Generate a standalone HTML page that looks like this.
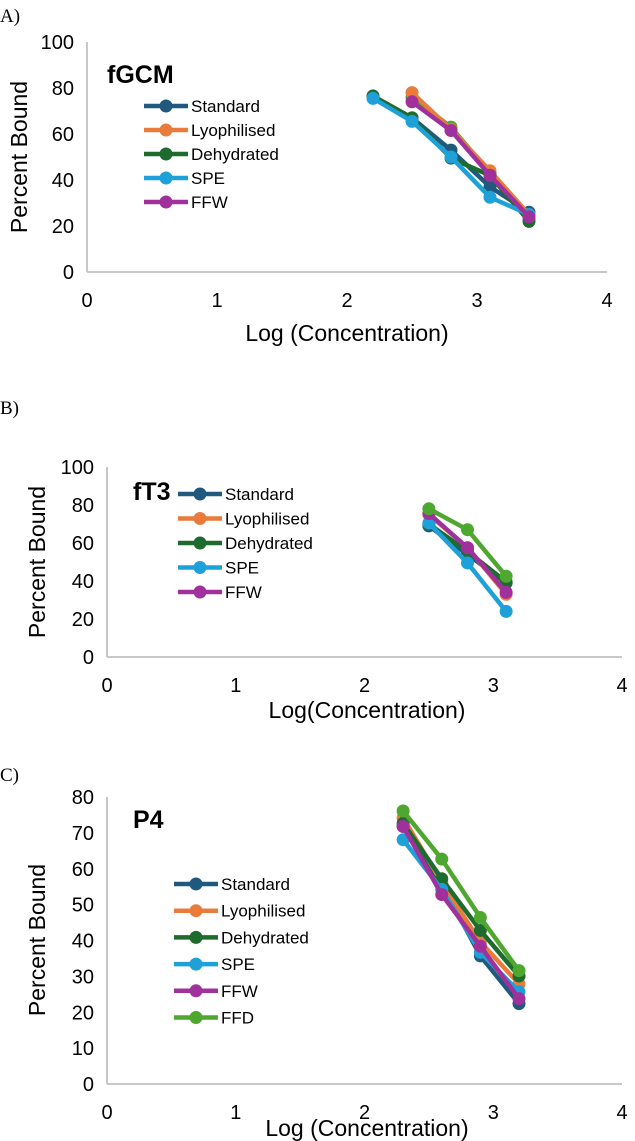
<!DOCTYPE html>
<html><head><meta charset="utf-8"><style>
body{margin:0;background:#fff;}
svg{display:block;font-family:"Liberation Sans",Arial,sans-serif;}
</style></head><body>
<svg id="fig" width="635" height="1141" viewBox="0 0 635 1141" xmlns="http://www.w3.org/2000/svg"></svg>
<script>
// Panel A data (fGCM)
const aSeriesNames = ["Standard","Lyophilised","Dehydrated","SPE","FFW","FFD"];
const aX = [2.2,2.5,2.8,3.1,3.4];
const aStandard = [76.5,67,53,37,26];
const aLyophilised = [null,78,62,44,25];
const aDehydrated = [76.5,67,49.5,42,22];
const aSPE = [75.5,65.5,50,32.5,25];
const aFFW = [null,74,61.5,42,24];
const aFFD = [null,76,63,43,23];
// Panel B data (fT3)
const bX = [2.5,2.8,3.1];
const bStandard = [69,54,39];
const bLyophilised = [75,57.5,33];
const bDehydrated = [70,55.5,39.5];
const bSPE = [70.5,49.5,24];
const bFFW = [75.5,57.5,34];
const bFFD = [78,67,42.5];
// Panel C data (P4)
const cX = [2.3,2.6,2.9,3.2];
const cStandard = [71.8,55.7,35.7,22.4];
const cLyophilised = [74.2,56.2,39.6,27.9];
const cDehydrated = [72.7,57.2,42.8,30.1];
const cSPE = [68.1,54.2,36.7,25.7];
const cFFW = [71.8,52.8,38.4,23.8];
const cFFD = [76.1,62.7,46.4,31.6];
const xTicks = [0,1,2,3,4];
const yTicksA = [0,20,40,60,80,100];
const yTicksC = [0,10,20,30,40,50,60,70,80];

const colors = {"Standard":"#1f5a7e","Lyophilised":"#e97c3a","Dehydrated":"#1e6b2e","SPE":"#1ea0d8","FFW":"#a0319c","FFD":"#4ea72e"};
const NS="http://www.w3.org/2000/svg";
const svg=document.getElementById('fig');
function mk(tag,attrs,parent){const e=document.createElementNS(NS,tag);for(const k in attrs)e.setAttribute(k,attrs[k]);(parent||svg).appendChild(e);return e;}
function txt(s,attrs,parent){const e=mk('text',attrs,parent);e.textContent=s;return e;}

function panel(cfg){
  const g=mk('g',{});
  
  
  const sx=v=>cfg.x0+(cfg.x1-cfg.x0)*v/4;
  const sy=v=>cfg.y0-(cfg.y0-cfg.yTop)*v/cfg.yMax;
  let t=txt(cfg.letter,{x:0,y:cfg.letterY,'font-family':'"Liberation Serif",serif','font-size':19},g);
  
  let ax=mk('line',{x1:cfg.x0,y1:cfg.yTop,x2:cfg.x0,y2:cfg.y0,stroke:'#c8c8c8','stroke-width':2},g);
  
  ax=mk('line',{x1:cfg.x0,y1:cfg.y0,x2:cfg.x1,y2:cfg.y0,stroke:'#c8c8c8','stroke-width':2},g);
  
  cfg.yTicks.forEach(v=>{const e=txt(String(v),{x:cfg.x0-13,y:sy(v)+7,'text-anchor':'end','font-size':20},g);
    });
  xTicks.forEach(v=>{const e=txt(String(v),{x:sx(v),y:cfg.y0+35,'text-anchor':'middle','font-size':20},g);
    });
  t=txt(cfg.xTitle,{x:cfg.xTitleX,y:cfg.xTitleY,'text-anchor':'middle','font-size':23},g);
  
  t=txt('Percent Bound',{x:0,y:0,'text-anchor':'middle','font-size':23,transform:`translate(${cfg.yTitleX},${cfg.yTitleY}) rotate(-90)`},g);
  
  t=txt(cfg.title,{x:cfg.titleX,y:cfg.titleY,'font-size':25,'font-weight':'bold'},g);
  
  cfg.series.forEach(s=>{
    const c=colors[s.name];
    const pts=[];s.vals.forEach((v,i)=>{if(v!==null)pts.push([sx(cfg.xs[i]),sy(v)]);});
    const sg=mk('g',{},g);
    
    
    const pl=mk('polyline',{points:pts.map(p=>p.join(',')).join(' '),fill:'none',stroke:c,'stroke-width':4.5,'stroke-linejoin':'round'},sg);
    
    pts.forEach(p=>{const m=mk('circle',{cx:p[0],cy:p[1],r:6.5,fill:c},sg);
      });
  });
  cfg.legend.forEach((n,i)=>{
    const y=cfg.legY+i*cfg.legStep, c=colors[n];
    const lg=mk('g',{},g);
    
    
    mk('line',{x1:cfg.legX-22,y1:y,x2:cfg.legX+22,y2:y,stroke:c,'stroke-width':4.5},lg);
    mk('circle',{cx:cfg.legX,cy:y,r:6.5,fill:c},lg);
    txt(n,{x:cfg.legX+25,y:y+6,'font-size':17},lg);
  });
}
panel({name:'panel-a-fgcm',letter:'A)',letterY:22,x0:87,x1:607,y0:272,yTop:42,yMax:100,yTicks:yTicksA,
  xs:aX,title:'fGCM',titleX:107,titleY:83,xTitle:'Log (Concentration)',xTitleX:347,xTitleY:341,yTitleX:27,yTitleY:157,
  series:[{name:'FFD',vals:aFFD},{name:'Standard',vals:aStandard},{name:'Lyophilised',vals:aLyophilised},{name:'Dehydrated',vals:aDehydrated},{name:'SPE',vals:aSPE},{name:'FFW',vals:aFFW}],
  legend:aSeriesNames.slice(0,5),legX:166,legY:106,legStep:24});
panel({name:'panel-b-ft3',letter:'B)',letterY:414,x0:107,x1:622,y0:657,yTop:467,yMax:100,yTicks:yTicksA,
  xs:bX,title:'fT3',titleX:133,titleY:500,xTitle:'Log(Concentration)',xTitleX:367,xTitleY:718,yTitleX:45,yTitleY:562,
  series:[{name:'Standard',vals:bStandard},{name:'Lyophilised',vals:bLyophilised},{name:'Dehydrated',vals:bDehydrated},{name:'SPE',vals:bSPE},{name:'FFW',vals:bFFW},{name:'FFD',vals:bFFD}],
  legend:aSeriesNames.slice(0,5),legX:200,legY:494,legStep:24.5});
panel({name:'panel-c-p4',letter:'C)',letterY:781,x0:107,x1:622,y0:1084,yTop:797,yMax:80,yTicks:yTicksC,
  xs:cX,title:'P4',titleX:133,titleY:828,xTitle:'Log (Concentration)',xTitleX:367,xTitleY:1136,yTitleX:45,yTitleY:940,
  series:[{name:'Standard',vals:cStandard},{name:'Lyophilised',vals:cLyophilised},{name:'Dehydrated',vals:cDehydrated},{name:'SPE',vals:cSPE},{name:'FFW',vals:cFFW},{name:'FFD',vals:cFFD}],
  legend:aSeriesNames,legX:196,legY:884,legStep:26.7});
</script>
</body></html>
